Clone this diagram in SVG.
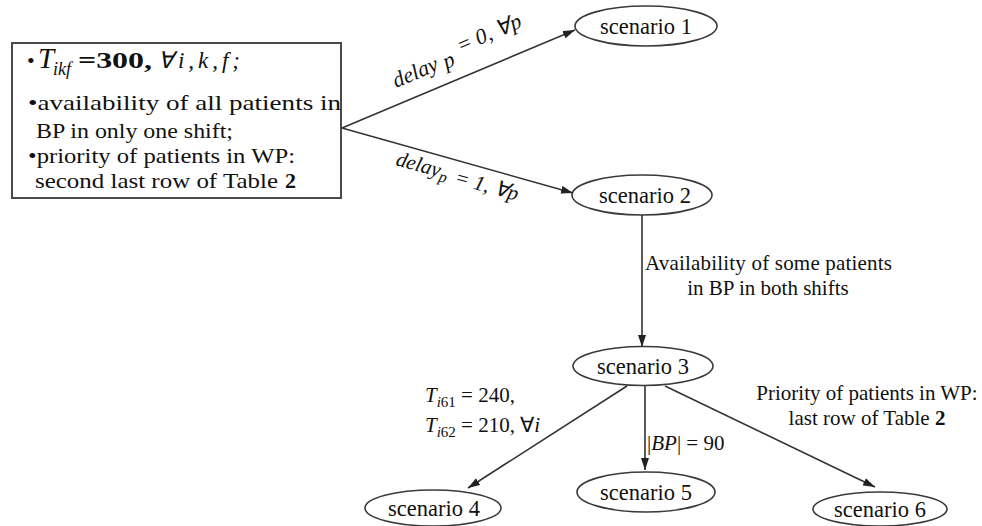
<svg xmlns="http://www.w3.org/2000/svg" width="982" height="526" viewBox="0 0 982 526">
<style>
.t{font-family:"Liberation Serif","Times New Roman",serif;fill:#111}
.bx{font-family:"Liberation Serif","Times New Roman",serif;fill:#111;font-size:22px}
.it{font-style:italic}
.b{font-weight:bold}
.node ellipse{fill:#fff;stroke:#3a3a3a;stroke-width:1.6}
.node text{font-family:"Liberation Serif","Times New Roman",serif;font-size:22.5px;fill:#111;text-anchor:middle}
.conn line{stroke:#333;stroke-width:1.6;marker-end:url(#ah)}
</style>
<defs>
<marker id="ah" viewBox="0 0 12 8" refX="12" refY="4" markerWidth="12" markerHeight="8" markerUnits="userSpaceOnUse" orient="auto">
<path d="M0,0 L12,4 L0,8 z" fill="#222"/>
</marker>
</defs>
<rect width="982" height="526" fill="#fff"/>

<g id="start">
<rect x="12" y="43" width="329" height="155" fill="#fff" stroke="#4a4a4a" stroke-width="2"/>
<text class="bx" x="27" y="68">•</text>
<text class="t it" x="38" y="68" font-size="29">T</text>
<text class="t it" x="53" y="75" font-size="18">ikf</text>
<text class="t b" x="78" y="68" font-size="24" textLength="74" lengthAdjust="spacingAndGlyphs">=300,</text>
<text class="t it" x="158" y="68" font-size="23" textLength="82" lengthAdjust="spacing">∀i,k,f;</text>
<text class="bx" x="28" y="110" textLength="313" lengthAdjust="spacingAndGlyphs">•availability of all patients in</text>
<text class="bx" x="36" y="138" textLength="197" lengthAdjust="spacingAndGlyphs">BP in only one shift;</text>
<text class="bx" x="28" y="163" textLength="267" lengthAdjust="spacingAndGlyphs">•priority of patients in WP:</text>
<text class="bx" x="35" y="188" textLength="243" lengthAdjust="spacingAndGlyphs">second last row of Table</text>
<text class="t b" x="285" y="188" font-size="22">2</text>
</g>

<g class="node" id="scenario1"><ellipse cx="646" cy="26" rx="71" ry="20"/><text x="646" y="34">scenario 1</text></g>
<g class="node" id="scenario2"><ellipse cx="642" cy="195" rx="70" ry="20"/><text x="645" y="203">scenario 2</text></g>
<g class="node" id="scenario3"><ellipse cx="643" cy="366" rx="70" ry="19.5"/><text x="643" y="374">scenario 3</text></g>
<g class="node" id="scenario4"><ellipse cx="433" cy="508" rx="68" ry="18"/><text x="434" y="516">scenario 4</text></g>
<g class="node" id="scenario5"><ellipse cx="646" cy="492" rx="69" ry="20"/><text x="646" y="500">scenario 5</text></g>
<g class="node" id="scenario6"><ellipse cx="880" cy="509" rx="67" ry="17"/><text x="880" y="517">scenario 6</text></g>

<g class="conn" id="connectors">
<line x1="342" y1="128" x2="575" y2="30"/>
<line x1="342" y1="128" x2="573" y2="193"/>
<line x1="642" y1="215" x2="642" y2="347"/>
<line x1="627" y1="386" x2="468" y2="488"/>
<line x1="645" y1="386" x2="645" y2="470"/>
<line x1="665" y1="386" x2="875" y2="487"/>
</g>

<g id="labels">
<text class="t it" font-size="22" transform="translate(396,88) rotate(-23)">delay<tspan dx="6" dy="2">p</tspan><tspan dx="8" dy="-9">= 0, ∀p</tspan></text>
<text class="t it" font-size="21" transform="translate(395,165) rotate(15.5)">delay<tspan font-size="16" dy="4">p</tspan><tspan dx="8" dy="-2">= 1, ∀p</tspan></text>
<text class="t" font-size="21" x="645" y="270" textLength="247" lengthAdjust="spacing">Availability of some patients</text>
<text class="t" font-size="21" x="768" y="295" text-anchor="middle">in BP in both shifts</text>
<text class="t" font-size="21" x="425" y="402"><tspan class="it">T</tspan><tspan class="it" font-size="15" dy="5">i</tspan><tspan font-size="15">61</tspan><tspan dy="-5"> = 240,</tspan></text>
<text class="t" font-size="21" x="425" y="432"><tspan class="it">T</tspan><tspan class="it" font-size="15" dy="5">i</tspan><tspan font-size="15">62</tspan><tspan dy="-5"> = 210, ∀</tspan><tspan class="it">i</tspan></text>
<text class="t" font-size="21" x="647" y="450">|<tspan class="it">BP</tspan>| = 90</text>
<text class="t" font-size="21" x="867" y="400" text-anchor="middle">Priority of patients in WP:</text>
<text class="t" font-size="21" x="867" y="425" text-anchor="middle">last row of Table <tspan class="b">2</tspan></text>
</g>
</svg>
